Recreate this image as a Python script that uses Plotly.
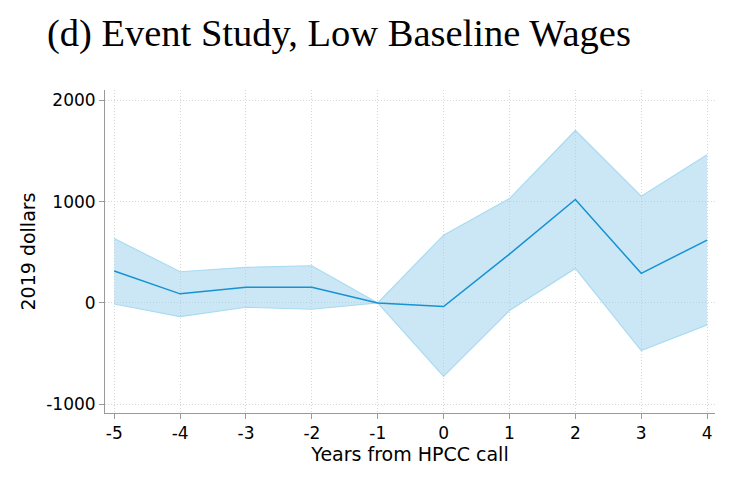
import plotly.graph_objects as go

years = [-5, -4, -3, -2, -1, 0, 1, 2, 3, 4]
estimate = [315, 90, 155, 155, 0, -35, 482, 1020, 292, 620]
upper = [636, 308, 351, 367, 0, 669, 1029, 1701, 1052, 1462]
lower = [-10, -135, -42, -62, 0, -724, -75, 341, -469, -216]
y_ticks = [-1000, 0, 1000, 2000]

W, H = 744, 473  # page adds an 8px body margin

fig = go.Figure()
fig.add_trace(go.Scatter(x=years, y=upper, mode="lines",
                         line=dict(color="#a9dbf0", width=1.2),
                         showlegend=False, hoverinfo="skip"))
fig.add_trace(go.Scatter(x=years, y=lower, mode="lines", fill="tonexty",
                         fillcolor="rgba(152,207,237,0.5)",
                         line=dict(color="#a9dbf0", width=1.2),
                         showlegend=False, hoverinfo="skip"))
fig.add_trace(go.Scatter(x=years, y=estimate, mode="lines",
                         line=dict(color="#1592d2", width=1.5),
                         showlegend=False))

axis_common = dict(
    showline=True, linecolor="#9a9a9a", linewidth=1,
    ticks="outside", ticklen=5, tickcolor="#9a9a9a", tickwidth=1,
    showgrid=True, gridcolor="#d6d6d6", griddash="1px,2px", gridwidth=1,
    zeroline=False, mirror=False, automargin=False,
    tickfont=dict(family="DejaVu Sans", size=17, color="#000"),
)

fig.update_layout(
    width=W, height=H,
    paper_bgcolor="white", plot_bgcolor="white",
    margin=dict(l=97, r=37, t=82, b=68),
    title=dict(text="(d) Event Study, Low Baseline Wages",
               font=dict(family="Liberation Serif", size=38.5, color="#000"),
               x=39 / W, xanchor="left", y=1 - 25 / H, yanchor="middle"),
    xaxis=dict(range=[-5.14, 4.12], tickvals=years, ticktext=[str(v) for v in years],
               title=dict(text="Years from HPCC call",
                          font=dict(family="DejaVu Sans", size=19, color="#000"),
                          standoff=1),
               **axis_common),
    yaxis=dict(range=[-1085, 2100], tickvals=y_ticks, ticktext=[str(v) for v in y_ticks],
               title=dict(text="2019 dollars",
                          font=dict(family="DejaVu Sans", size=19, color="#000"),
                          standoff=5),
               **axis_common),
)

fig.write_html("out.html")
